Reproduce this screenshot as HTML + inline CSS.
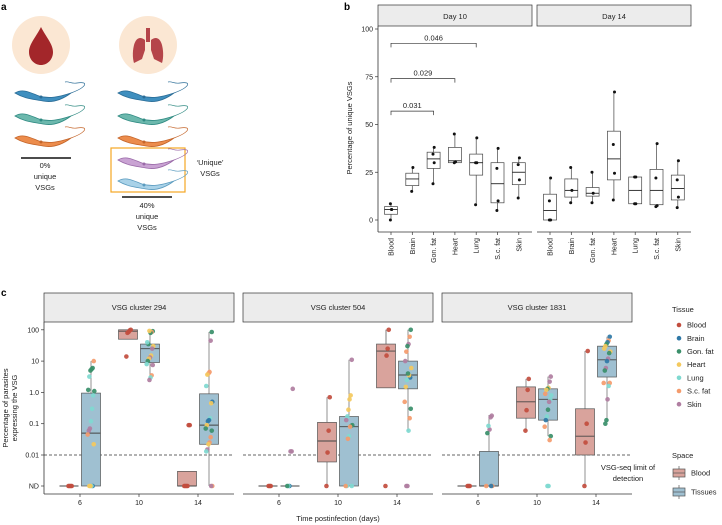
<!DOCTYPE html>
<html><head><meta charset="utf-8">
<style>
html,body{margin:0;padding:0;background:#fff;}
svg{display:block;font-family:"Liberation Sans",Arial,sans-serif;}
</style></head>
<body>
<svg id="fig" width="722" height="525" viewBox="0 0 722 525">
  <!-- panel letters -->
  <text x="1" y="10" font-size="10" font-weight="bold">a</text>
  <text x="344" y="10" font-size="10" font-weight="bold">b</text>
  <text x="1" y="296" font-size="10" font-weight="bold">c</text>

  <!-- panel a -->
  <g id="panelA">
    <circle cx="41" cy="45" r="29" fill="#fbe7d3"/>
    <path d="M41 27 C36 37 29 44 29 52 C29 60 35 65 41 65 C47 65 53 60 53 52 C53 44 46 37 41 27 Z" fill="#a3262a"/>
    <circle cx="148" cy="45" r="29" fill="#fbe7d3"/>
    <g fill="#b5454a">
      <rect x="146" y="28" width="4" height="14"/>
      <path d="M145 40 C140 36 136 38 134 45 C132 53 133 60 134 63 L142 59 L145 50 Z"/>
      <path d="M151 40 C156 36 160 38 162 45 C164 53 163 60 162 63 L154 59 L151 50 Z"/>
    </g>
    <rect x="111" y="148" width="74" height="44" fill="none" stroke="#f5a623" stroke-width="1.2"/>
    <line x1="21" y1="158" x2="71" y2="158" stroke="#111" stroke-width="1.6"/>
    <line x1="122" y1="197" x2="172" y2="197" stroke="#111" stroke-width="1.6"/>
    <g font-size="7.5" fill="#222" text-anchor="middle">
      <text x="45" y="168">0%</text>
      <text x="45" y="179">unique</text>
      <text x="45" y="190">VSGs</text>
      <text x="147" y="208">40%</text>
      <text x="147" y="219">unique</text>
      <text x="147" y="230">VSGs</text>
      <text x="210" y="165">‘Unique’</text>
      <text x="210" y="176">VSGs</text>
    </g>
  </g>

  <!-- panel b -->
  <g id="panelB"></g>
  <!-- panel c -->
  <g id="panelC"></g>
</svg>
<script>
// ---------- Panel b data ----------
const bCategories = ["Blood","Brain","Gon. fat","Heart","Lung","S.c. fat","Skin"];
const bFacets = ["Day 10","Day 14"];
const bYTicks = [0,25,50,75,100];
// box stats [lowWhisker, q1, median, q3, highWhisker]
const bDay10Boxes = [[0,3,5.5,7,8.5],[15,18,21.5,24.5,27.5],[19,27,32,35.5,38],[30,30,31,38,45],[8,23.5,30,34.5,43],[5,9,19,30,37.5],[11.5,18.5,25,30,32.5]];
const bDay14Boxes = [[0,0,5,13.5,22],[9,12,15.5,21.5,27.5],[9,12.5,14,17,25],[10.5,21,32,46.5,67],[8.5,8.5,15.5,22.5,22.5],[7,8,15.5,26.5,40],[6.5,10.5,16.5,23.5,31]];
const bDay10Points = [[0,5.5,8.5,5.5],[15,27.5],[19,30,34.5,38],[30,30.5,45],[8,30,30,43],[5,10,27,37.5],[11.5,21,29,32.5]];
const bDay14Points = [[0,0,10,22],[9,15.5,27.5],[9,14,25],[10.5,24.5,39.5,67],[8.5,8.5,22.5,22.5],[7,7.5,22,40],[6.5,12,21,31]];
const bBrackets = [["0.031",2,57],["0.029",3,74],["0.046",4,92.5]];

// ---------- Panel c data ----------
const cClusters = ["VSG cluster 294","VSG cluster 504","VSG cluster 1831"];
const cDays = ["6","10","14"];
const cYTicks = [0.001,0.01,0.1,1,10,100];
const cYTickLabels = ["ND","0.01","0.1","1.0","10","100"];
const tissues = ["Blood","Brain","Gon. fat","Heart","Lung","S.c. fat","Skin"];
const tissueColors = ["#c24d3e","#2f78a6","#3a8f6a","#f4c95d","#7fd9d0","#f49b6c","#b07ea1"];
// box stats [lo,q1,med,q3,hi]; 0 = ND ; index [cluster][day]
const cBloodBoxes = [
  [[0,0,0,0,0],[50,50,90,100,100],[0,0,0,0.003,0.003]],
  [[0,0,0,0,0],[0,0.006,0.028,0.11,0.7],[100,1.4,21,35,100]],
  [[0,0,0,0,0],[0.06,0.15,0.5,1.5,2.7],[0,0.01,0.04,0.3,21]]
];
const cTissueBoxes = [
  [[0,0,0.05,0.95,10],[2.5,9,25,35,90],[0,0.022,0.09,0.9,85]],
  [[0,0,0,0,0],[0,0,0.08,0.17,11],[0.058,1.3,3.6,10,100]],
  [[0,0,0,0.013,0.19],[0.04,0.13,0.6,1.3,3.2],[0.13,3.1,11,30,60]]
];
// point values per tissue index: [tissueIdx, value]
const cBloodPoints = [
  [[[0,0],[0,0],[0,0],[0,0]], [[0,100],[0,95],[0,85],[0,80],[0,14]], [[0,0.09],[0,0.09],[0,0],[0,0],[0,0],[0,0]]],
  [[[0,0],[0,0],[0,0]], [[0,0.7],[0,0.06],[0,0.012],[0,0]], [[0,100],[0,25],[0,15],[0,0]]],
  [[[0,0],[0,0],[0,0]], [[0,2.7],[0,1.2],[0,0.27],[0,0.06]], [[0,21],[0,0.1],[0,0.025],[0,0]]]
];
const cTissuePoints = [
  [
    [[5,10],[2,6],[2,5.5],[2,5],[4,3.2],[2,1.2],[2,1.1],[4,0.8],[4,0.3],[4,0.12],[6,0.07],[6,0.06],[5,0.045],[3,0.022],[1,0],[4,0],[3,0],[3,0]],
    [[2,90],[5,85],[2,80],[3,92],[2,35],[4,40],[3,30],[6,25],[3,15],[6,13],[3,12],[2,10],[4,8],[6,7.5],[5,3.5],[4,3],[6,2.5]],
    [[2,85],[6,45],[5,4.5],[5,4],[3,3.7],[4,1.6],[1,0.5],[3,0.45],[4,0.15],[1,0.13],[1,0.12],[3,0.09],[2,0.07],[2,0.06],[5,0.037],[5,0.025],[3,0.022],[6,0.015],[4,0.013],[5,0],[6,0]]
  ],
  [
    [[6,1.3],[6,0.013],[6,0.013],[1,0],[4,0],[2,0]],
    [[6,11],[3,0.8],[3,0.6],[3,0.28],[4,0.17],[6,0.13],[2,0.09],[2,0.085],[5,0.08],[4,0.04],[5,0.033],[4,0],[5,0],[4,0]],
    [[2,100],[5,60],[6,35],[2,30],[5,20],[6,10],[3,6],[1,3],[3,3.5],[2,4],[4,2.5],[3,1.5],[5,0.5],[2,0.3],[5,0.15],[4,0.06],[6,0],[6,0]]
  ],
  [
    [[6,0.18],[6,0.16],[6,0.065],[4,0.085],[2,0.05],[5,0],[5,0],[1,0]],
    [[6,3.2],[6,2.2],[3,1.4],[2,1.3],[3,1.2],[5,0.9],[4,0.8],[4,0.6],[6,0.5],[2,0.28],[4,0.17],[1,0.13],[5,0.08],[2,0.04],[5,0.03],[4,0],[4,0]],
    [[1,60],[5,45],[1,40],[2,35],[3,30],[3,25],[3,20],[2,18],[6,12],[1,10],[6,6],[2,5],[5,2],[5,2],[4,1.6],[6,0.6],[2,0.13],[2,0.1]]
  ]
];

const NS = "http://www.w3.org/2000/svg";
function mk(parent, tag, attrs, text){
  const e = document.createElementNS(NS, tag);
  for (const k in attrs) e.setAttribute(k, attrs[k]);
  if (text !== undefined) e.textContent = text;
  parent.appendChild(e);
  return e;
}

// ---------- parasites (panel a) ----------
const pa = document.getElementById('panelA');
function parasite(x, y, col, light){
  const g = mk(pa, 'g', {});
  
  
  mk(g, 'path', {d:`M${x} ${y-2} C${x+8} ${y-7} ${x+16} ${y-2} ${x+24} ${y+1} C${x+34} ${y+4} ${x+44} ${y+2} ${x+56} ${y-2} C${x+48} ${y+4} ${x+38} ${y+8} ${x+28} ${y+6} C${x+18} ${y+4} ${x+10} ${y+4} ${x} ${y-2} Z`, fill:light, stroke:col, 'stroke-width':0.8});
  mk(g, 'path', {d:`M${x+56} ${y-2} C${x+72} ${y-8} ${x+74} ${y-14} ${x+62} ${y-12} C${x+56} ${y-11} ${x+54} ${y-14} ${x+50} ${y-13}`, fill:'none', stroke:col, 'stroke-width':0.7});
  mk(g, 'circle', {cx:x+26, cy:y+2, r:1.5, fill:col});
}
[[15,95,'#2b6d97','#3f8fbf'],[15,118,'#2f8a82','#6cb8ad'],[15,140,'#c4652a','#ec8c4c']].forEach(p=>parasite(...p));
[[118,95,'#2b6d97','#3f8fbf'],[118,118,'#2f8a82','#6cb8ad'],[118,140,'#c4652a','#ec8c4c'],[118,162,'#9a6aa8','#c9a3d3'],[118,183,'#5b9bbf','#a9d2e8']].forEach(p=>parasite(...p));

// ---------- Panel b ----------
const pb = document.getElementById('panelB');
const bY = v => 220 - v*1.91;
const bFacetX = [378, 537], bFacetW = 154;
const bX = (f, i) => bFacetX[f] + 13 + i*21.3;
// strips
bFacets.forEach((name,f)=>{
  const r = mk(pb,'rect',{x:bFacetX[f], y:5, width:bFacetW, height:21, fill:'#ececec', stroke:'#333', 'stroke-width':0.7});
  
  
  const t = mk(pb,'text',{x:bFacetX[f]+bFacetW/2, y:19, 'font-size':7.5, 'text-anchor':'middle', fill:'#222'}, name);
  
  
  const ax = mk(pb,'line',{x1:bFacetX[f], y1:232, x2:bFacetX[f]+bFacetW, y2:232, stroke:'#333','stroke-width':0.8});
  
  
  bCategories.forEach((c,i)=>{
    const x = bX(f,i);
    mk(pb,'line',{x1:x,y1:232,x2:x,y2:235,stroke:'#333','stroke-width':0.7});
    const tl = mk(pb,'text',{x:0,y:0,'font-size':7,'text-anchor':'end',fill:'#222',transform:`translate(${x+2.5},238) rotate(-90)`}, c);
    
    
  });
});
const yax = mk(pb,'line',{x1:378,y1:26,x2:378,y2:232,stroke:'#333','stroke-width':0.8});


bYTicks.forEach(v=>{
  mk(pb,'line',{x1:375,y1:bY(v),x2:378,y2:bY(v),stroke:'#333','stroke-width':0.7});
  const t = mk(pb,'text',{x:373,y:bY(v)+2.5,'font-size':7,'text-anchor':'end',fill:'#222'}, String(v));
  
  
});
const byt = mk(pb,'text',{x:0,y:0,'font-size':7.5,'text-anchor':'middle',fill:'#222',transform:'translate(352,128) rotate(-90)'}, 'Percentage of unique VSGs');


[bDay10Boxes, bDay14Boxes].forEach((boxes,f)=>{
  boxes.forEach((s,i)=>{
    const x = bX(f,i), w = 13;
    const g = mk(pb,'g',{});
    
    
    mk(g,'line',{x1:x,y1:bY(s[0]),x2:x,y2:bY(s[1]),stroke:'#444','stroke-width':0.7});
    mk(g,'line',{x1:x,y1:bY(s[3]),x2:x,y2:bY(s[4]),stroke:'#444','stroke-width':0.7});
    mk(g,'rect',{x:x-w/2,y:bY(s[3]),width:w,height:Math.max(0.5,bY(s[1])-bY(s[3])),fill:'#fff',stroke:'#444','stroke-width':0.7});
    mk(g,'line',{x1:x-w/2,y1:bY(s[2]),x2:x+w/2,y2:bY(s[2]),stroke:'#222','stroke-width':0.9});
  });
});
[bDay10Points, bDay14Points].forEach((pts,f)=>{
  pts.forEach((arr,i)=>{
    arr.forEach((v,j)=>{
      const c = mk(pb,'circle',{cx:bX(f,i)+(j%2?0.6:-0.6), cy:bY(v), r:1.5, fill:'#111'});
      
      
    });
  });
});
bBrackets.forEach(b=>{
  const x1 = bX(0,0), x2 = bX(0,b[1]), y = bY(b[2]);
  const p = mk(pb,'path',{d:`M${x1} ${y+4} V${y} H${x2} V${y+4}`,fill:'none',stroke:'#333','stroke-width':0.7});
  
  
  const t = mk(pb,'text',{x:(x1+x2)/2,y:y-3,'font-size':7.5,'text-anchor':'middle',fill:'#222'}, b[0]);
  
  
});

// ---------- Panel c ----------
const pc = document.getElementById('panelC');
const cY = v => v <= 0.001 ? 486 : 455 - (Math.log10(v) + 2) * 31.3;
const cPanelX = [44, 243, 442], cPanelW = 190;
const cDayX = (p, d) => cPanelX[p] + 36 + d*59;
cClusters.forEach((name,p)=>{
  const x0 = cPanelX[p];
  const r = mk(pc,'rect',{x:x0,y:293,width:cPanelW,height:29,fill:'#ececec',stroke:'#333','stroke-width':0.7});
  
  
  const t = mk(pc,'text',{x:x0+cPanelW/2,y:310,'font-size':7.5,'text-anchor':'middle',fill:'#222'}, name);
  
  
  const ax = mk(pc,'line',{x1:x0,y1:494,x2:x0+cPanelW,y2:494,stroke:'#333','stroke-width':0.8});
  
  
  const dl = mk(pc,'line',{x1:x0,y1:cY(0.01),x2:x0+cPanelW,y2:cY(0.01),stroke:'#333','stroke-width':0.7,'stroke-dasharray':'3,2'});
  
  
  cDays.forEach((d,i)=>{
    const x = cDayX(p,i);
    mk(pc,'line',{x1:x,y1:494,x2:x,y2:497,stroke:'#333','stroke-width':0.7});
    const tl = mk(pc,'text',{x:x,y:505,'font-size':7,'text-anchor':'middle',fill:'#222'}, d);
    
    
  });
});
const cyax = mk(pc,'line',{x1:44,y1:322,x2:44,y2:494,stroke:'#333','stroke-width':0.8});


cYTicks.forEach((v,i)=>{
  mk(pc,'line',{x1:41,y1:cY(v),x2:44,y2:cY(v),stroke:'#333','stroke-width':0.7});
  const t = mk(pc,'text',{x:39,y:cY(v)+2.5,'font-size':7,'text-anchor':'end',fill:'#222'}, cYTickLabels[i]);
  
  
});
const cyt1 = mk(pc,'text',{x:0,y:0,'font-size':7.5,'text-anchor':'middle',fill:'#222',transform:'translate(8,408) rotate(-90)'}, 'Percentage of parasites');


const cyt2 = mk(pc,'text',{x:0,y:0,'font-size':7.5,'text-anchor':'middle',fill:'#222',transform:'translate(17,408) rotate(-90)'}, 'expressing the VSG');


const cxt = mk(pc,'text',{x:338,y:521,'font-size':7.5,'text-anchor':'middle',fill:'#222'}, 'Time postinfection (days)');


const lim1 = mk(pc,'text',{x:628,y:470,'font-size':7.5,'text-anchor':'middle',fill:'#222'}, 'VSG-seq limit of');


const lim2 = mk(pc,'text',{x:628,y:481,'font-size':7.5,'text-anchor':'middle',fill:'#222'}, 'detection');



function drawCBox(x, s, fill, label){
  const g = mk(pc,'g',{});
  
  
  const w = 19;
  mk(g,'line',{x1:x,y1:cY(s[0]),x2:x,y2:cY(s[1]),stroke:'#777','stroke-width':0.8});
  mk(g,'line',{x1:x,y1:cY(s[3]),x2:x,y2:cY(s[4]),stroke:'#777','stroke-width':0.8});
  const h = cY(s[1]) - cY(s[3]);
  if (h > 0.5) mk(g,'rect',{x:x-w/2,y:cY(s[3]),width:w,height:h,fill:fill,stroke:'#555','stroke-width':0.7});
  mk(g,'line',{x1:x-w/2,y1:cY(s[2]),x2:x+w/2,y2:cY(s[2]),stroke:'#444','stroke-width':0.9});
}
function drawCPoints(x, pts){
  pts.forEach((pt,j)=>{
    const jit = (((j*37+11)%13)-6)*0.55;
    const c = mk(pc,'circle',{cx:x+jit, cy:cY(pt[1]), r:2.3, fill:tissueColors[pt[0]], opacity:0.92});
    
    
  });
}
cClusters.forEach((name,p)=>{
  cDays.forEach((d,i)=>{
    const x = cDayX(p,i);
    drawCBox(x-11, cBloodBoxes[p][i], '#d9a39c', 'box-blood-day' + d);
    drawCBox(x+11, cTissueBoxes[p][i], '#9fc0d1', 'box-tissues-day' + d);
    drawCPoints(x-11, cBloodPoints[p][i]);
    drawCPoints(x+11, cTissuePoints[p][i]);
  });
});

// legend
const lt = mk(pc,'text',{x:672,y:312,'font-size':7.5,fill:'#222'}, 'Tissue');


tissues.forEach((t,i)=>{
  const y = 325 + i*13.2;
  const g = mk(pc,'g',{});
  
  
  mk(g,'circle',{cx:679,cy:y,r:2.3,fill:tissueColors[i]});
  mk(g,'text',{x:687,y:y+2.6,'font-size':7.5,fill:'#222'}, t);
});
const st = mk(pc,'text',{x:672,y:458,'font-size':7.5,fill:'#222'}, 'Space');


[['Blood','#d9a39c',473],['Tissues','#9fc0d1',492]].forEach(e=>{
  const g = mk(pc,'g',{});
  
  
  mk(g,'line',{x1:679,y1:e[2]-7,x2:679,y2:e[2]+7,stroke:'#555','stroke-width':0.7});
  mk(g,'rect',{x:673,y:e[2]-4,width:12,height:8,fill:e[1],stroke:'#555','stroke-width':0.7});
  mk(g,'line',{x1:673,y1:e[2],x2:685,y2:e[2],stroke:'#555','stroke-width':0.7});
  mk(g,'text',{x:691,y:e[2]+2.6,'font-size':7.5,fill:'#222'}, e[0]);
});
</script>
</body></html>
